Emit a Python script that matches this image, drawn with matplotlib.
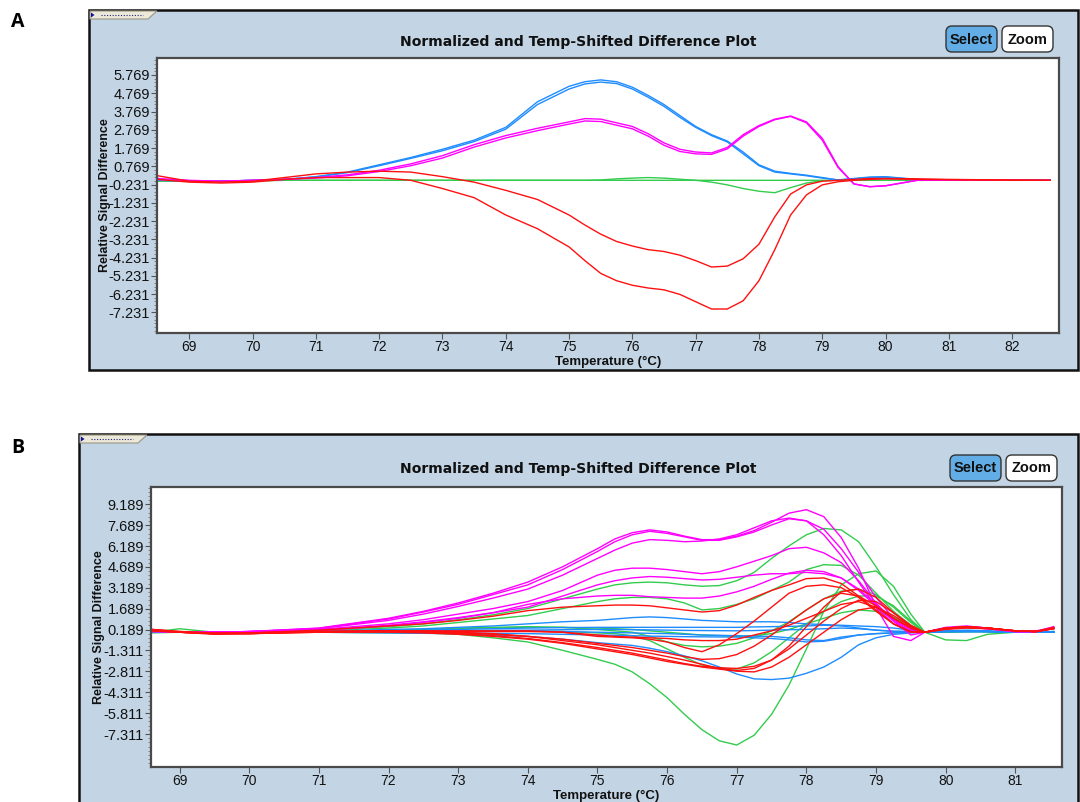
import numpy as np
import matplotlib.pyplot as plt
from matplotlib.patches import Rectangle, FancyBboxPatch, Polygon
from matplotlib.ticker import FixedLocator

# ---------------- panel A data ----------------
temp_a = [68.5, 69.0, 69.5, 70.0, 70.5, 71.0, 71.5, 72.0, 72.5, 73.0, 73.5, 74.0, 74.5,
          75.0, 75.25, 75.5, 75.75, 76.0, 76.25, 76.5, 76.75, 77.0, 77.25, 77.5, 77.75,
          78.0, 78.25, 78.5, 78.75, 79.0, 79.25, 79.5, 79.75,
          80.0, 80.5, 81.0, 81.5, 82.0, 82.6]

blue_a1 = [0.05, -0.05, -0.05, 0.0, 0.05, 0.2, 0.45, 0.85, 1.25, 1.7, 2.2, 2.9, 4.3,
           5.15, 5.4, 5.5, 5.4, 5.1, 4.65, 4.15, 3.55, 2.95, 2.5, 2.15, 1.55, 0.85, 0.5, 0.38, 0.28, 0.15, 0.02, 0.1, 0.18,
           0.2, 0.05, 0.0, 0.0, 0.0, 0.0]
blue_a2 = [0.0, -0.05, -0.05, 0.0, 0.05, 0.18, 0.42, 0.8, 1.2, 1.62, 2.12, 2.8, 4.15,
           5.0, 5.28, 5.38, 5.3, 5.0, 4.55, 4.05, 3.45, 2.9, 2.45, 2.1, 1.45, 0.8, 0.45, 0.35, 0.25, 0.12, 0.02, 0.08, 0.15,
           0.17, 0.04, 0.0, 0.0, 0.0, 0.0]
magenta_a1 = [0.1, 0.0, -0.05, 0.0, 0.05, 0.15, 0.3, 0.55, 0.9, 1.35, 1.95, 2.45, 2.85,
              3.2, 3.38, 3.35, 3.15, 2.95, 2.55, 2.05, 1.7, 1.55, 1.5, 1.8, 2.5, 3.0, 3.35, 3.52, 3.2, 2.3, 0.75, -0.2, -0.35,
              -0.3, 0.0, 0.0, 0.0, 0.0, 0.0]
magenta_a2 = [0.05, -0.02, -0.05, 0.0, 0.05, 0.12, 0.25, 0.48, 0.8, 1.22, 1.82, 2.32, 2.72,
              3.08, 3.25, 3.22, 3.02, 2.82, 2.42, 1.92, 1.58, 1.45, 1.42, 1.72, 2.42, 2.95, 3.32, 3.5, 3.15, 2.2, 0.7, -0.2, -0.35,
              -0.3, 0.0, 0.0, 0.0, 0.0, 0.0]
red_a1 = [0.25, -0.05, -0.1, -0.05, 0.15, 0.35, 0.45, 0.5, 0.45, 0.2, -0.1, -0.55, -1.05,
          -1.9, -2.45, -2.95, -3.35, -3.6, -3.8, -3.9, -4.1, -4.4, -4.75, -4.7, -4.3, -3.5, -2.0, -0.75, -0.25, -0.05, 0.0, 0.05, 0.1,
          0.1, 0.08, 0.05, 0.03, 0.02, 0.0]
red_a2 = [0.05, -0.1, -0.15, -0.1, 0.05, 0.15, 0.15, 0.15, 0.0, -0.45, -0.95, -1.9, -2.65,
          -3.65, -4.4, -5.1, -5.5, -5.75, -5.9, -6.0, -6.25, -6.65, -7.05, -7.05, -6.6, -5.5, -3.8, -1.9, -0.8, -0.25, -0.08, 0.0, 0.05,
          0.08, 0.05, 0.03, 0.02, 0.0, 0.0]
green_a1 = [0.0, -0.02, -0.05, -0.03, 0.0, 0.0, 0.0, 0.0, 0.0, 0.0, 0.0, 0.0, 0.0,
            0.0, 0.0, 0.0, 0.0, 0.0, 0.0, 0.0, 0.0, 0.0, 0.0, 0.0, 0.0, 0.0, 0.0, 0.0, 0.0, 0.0, 0.0, 0.0, 0.0,
            0.0, 0.0, 0.0, 0.0, 0.0, 0.0]
green_a2 = [-0.05, -0.05, -0.05, -0.02, 0.0, 0.0, 0.0, 0.0, 0.0, 0.0, 0.0, 0.0, 0.0,
            0.0, 0.0, 0.02, 0.08, 0.12, 0.15, 0.12, 0.06, 0.0, -0.1, -0.25, -0.45, -0.6, -0.68, -0.4, -0.15, -0.02, 0.0, 0.0, 0.0,
            0.0, 0.0, 0.0, 0.0, 0.0, 0.0]

yticks_a = [5.769, 4.769, 3.769, 2.769, 1.769, 0.769, -0.231, -1.231, -2.231, -3.231, -4.231, -5.231, -6.231, -7.231]
xticks_a = [69, 70, 71, 72, 73, 74, 75, 76, 77, 78, 79, 80, 81, 82]

# ---------------- panel B data ----------------
temp_b = [68.6, 69.0, 69.5, 70.0, 71.0, 72.0, 72.5, 73.0, 73.5, 74.0, 74.5,
          75.0, 75.25, 75.5, 75.75, 76.0, 76.25, 76.5, 76.75, 77.0, 77.25, 77.5, 77.75,
          78.0, 78.25, 78.5, 78.75, 79.0, 79.25, 79.5,
          79.7, 80.0, 80.3, 80.6, 81.0, 81.3, 81.55]

magenta_b1 = [0.1, 0.0, 0.0, 0.05, 0.3, 1.0, 1.5, 2.1, 2.8, 3.6, 4.7,
              6.0, 6.7, 7.15, 7.35, 7.2, 6.9, 6.65, 6.65, 6.9, 7.3, 7.9, 8.55, 8.8, 8.3, 6.8, 4.6, 1.8, -0.3, -0.6,
              0.0, 0.3, 0.4, 0.3, 0.05, 0.05, 0.4]
magenta_b2 = [0.05, 0.0, 0.0, 0.05, 0.28, 0.95, 1.45, 2.0, 2.7, 3.4, 4.5,
              5.8, 6.5, 7.0, 7.25, 7.1, 6.85, 6.6, 6.6, 6.85, 7.2, 7.7, 8.15, 8.0, 7.4, 6.0, 4.3, 2.5, 1.0, 0.2,
              0.0, 0.35, 0.45, 0.3, 0.05, 0.1, 0.35]
magenta_b3 = [0.1, 0.0, -0.05, 0.05, 0.25, 0.85, 1.3, 1.85, 2.45, 3.1, 4.1,
              5.3, 5.9, 6.4, 6.65, 6.6, 6.5, 6.55, 6.7, 7.0, 7.5, 8.0, 8.2, 8.0, 7.0, 5.5, 3.6, 1.8, 0.6, 0.0,
              0.0, 0.3, 0.4, 0.25, 0.05, 0.05, 0.3]
magenta_b4 = [0.1, 0.0, 0.0, 0.05, 0.2, 0.6, 0.9, 1.3, 1.7, 2.2, 3.0,
              4.1, 4.45, 4.6, 4.6, 4.5, 4.35, 4.2, 4.35, 4.7, 5.1, 5.5, 6.0, 6.1, 5.7, 5.0, 3.7, 2.1, 0.8, -0.2,
              0.0, 0.25, 0.35, 0.25, 0.05, 0.05, 0.25]
magenta_b5 = [0.05, 0.0, 0.0, 0.0, 0.15, 0.5, 0.75, 1.05, 1.4, 1.8, 2.6,
              3.4, 3.7, 3.9, 4.0, 3.95, 3.85, 3.75, 3.8, 3.95, 4.1, 4.2, 4.2, 4.3, 4.2, 3.9, 3.1, 2.0, 0.9, 0.1,
              0.0, 0.3, 0.4, 0.3, 0.05, 0.05, 0.3]
magenta_b6 = [0.1, 0.0, 0.0, 0.0, 0.12, 0.45, 0.7, 1.0, 1.4, 2.0, 2.4,
              2.6, 2.65, 2.65, 2.55, 2.5, 2.45, 2.45, 2.6, 2.9, 3.3, 3.8, 4.25, 4.45, 4.35, 3.9, 3.0, 1.9, 0.8, 0.05,
              0.0, 0.25, 0.35, 0.25, 0.05, 0.05, 0.3]

green_b1 = [0.0, 0.25, 0.0, 0.0, 0.0, -0.05, -0.05, -0.15, -0.4, -0.7, -1.3,
            -1.95, -2.3, -2.85, -3.7, -4.7, -5.9, -7.0, -7.8, -8.1, -7.4, -5.9, -3.8, -1.2, 1.5, 3.4, 4.2, 4.4, 3.3, 1.3,
            0.0, -0.55, -0.6, -0.15, 0.0, 0.0, 0.0]
green_b2 = [0.1, 0.0, 0.0, 0.0, 0.15, 0.4, 0.6, 0.9, 1.25, 1.7, 2.4,
            3.1, 3.4, 3.55, 3.6, 3.55, 3.4, 3.3, 3.35, 3.7, 4.3, 5.3, 6.2, 7.0, 7.45, 7.35, 6.5, 4.7, 2.7, 0.9,
            0.0, 0.05, 0.1, 0.05, 0.0, 0.0, 0.05]
green_b3 = [0.0, 0.05, 0.0, 0.0, 0.1, 0.3, 0.45, 0.7, 0.95, 1.2, 1.7,
            2.2, 2.4, 2.5, 2.5, 2.4, 2.1, 1.6, 1.7, 2.0, 2.4, 3.0, 3.6, 4.5, 4.85, 4.8, 4.1, 2.8, 1.5, 0.5,
            0.0, 0.05, 0.1, 0.05, 0.0, 0.0, 0.05]
green_b4 = [-0.05, 0.0, 0.0, 0.0, 0.05, 0.15, 0.2, 0.3, 0.35, 0.4, 0.35,
            0.2, 0.1, 0.0, -0.3, -0.7, -0.95, -1.05, -1.0, -0.8, -0.4, 0.1, 0.75, 1.6, 2.4, 2.95, 3.1, 2.7, 1.8, 0.7,
            0.0, 0.05, 0.05, 0.05, 0.0, 0.0, 0.0]
green_b5 = [0.0, 0.0, 0.0, 0.0, 0.0, 0.05, 0.08, 0.1, 0.1, 0.1, 0.05,
            -0.05, -0.1, -0.25, -0.6, -1.2, -1.8, -2.35, -2.6, -2.65, -2.2, -1.4, -0.4, 0.6, 1.5, 2.2, 2.6, 2.6, 1.9, 0.8,
            0.0, 0.0, 0.05, 0.05, 0.0, 0.0, 0.0]
green_b6 = [0.0, 0.0, 0.0, 0.0, 0.02, 0.1, 0.18, 0.25, 0.3, 0.35, 0.35,
            0.3, 0.25, 0.2, 0.1, 0.0, -0.1, -0.2, -0.25, -0.3, -0.25, -0.1, 0.2, 0.6, 1.0, 1.4, 1.6, 1.5, 1.1, 0.4,
            0.0, 0.0, 0.05, 0.05, 0.0, 0.0, 0.0]

red_b1 = [0.2, 0.0, -0.1, -0.05, 0.15, 0.45, 0.6, 0.85, 1.15, 1.55, 1.8,
          1.9, 1.95, 1.95, 1.9, 1.75, 1.6, 1.45, 1.55, 1.95, 2.5, 3.0, 3.4, 3.85, 3.9, 3.5, 2.6, 1.6, 0.6, 0.0,
          0.0, 0.25, 0.35, 0.3, 0.1, 0.05, 0.3]
red_b2 = [0.15, 0.0, -0.1, -0.1, 0.05, 0.1, 0.1, 0.1, 0.1, 0.1, 0.0,
          -0.3, -0.35, -0.4, -0.5, -0.7, -1.1, -1.4, -0.9, -0.1, 0.8, 1.8, 2.8, 3.3, 3.4, 3.2, 2.5, 1.5, 0.6, 0.05,
          0.0, 0.3, 0.35, 0.3, 0.1, 0.05, 0.25]
red_b3 = [0.2, 0.05, -0.1, -0.1, 0.05, 0.1, 0.05, 0.0, -0.1, -0.3, -0.6,
          -0.9, -1.1, -1.3, -1.5, -1.75, -2.0, -2.3, -2.6, -2.75, -2.6, -2.0, -1.0, 0.4, 1.8, 2.9, 3.1, 2.5, 1.4, 0.4,
          0.0, 0.25, 0.35, 0.3, 0.1, 0.05, 0.3]
red_b4 = [0.1, 0.0, -0.15, -0.1, 0.0, 0.05, 0.0, -0.1, -0.25, -0.45, -0.75,
          -1.1, -1.3, -1.5, -1.75, -2.0, -2.25, -2.45, -2.55, -2.6, -2.45, -2.0, -1.2, -0.2, 0.8, 1.7, 2.3, 2.2, 1.4, 0.5,
          0.0, 0.3, 0.4, 0.3, 0.1, 0.05, 0.35]
red_b5 = [0.15, 0.0, -0.1, -0.1, 0.0, 0.0, -0.05, -0.15, -0.3, -0.5, -0.8,
          -1.2, -1.4, -1.6, -1.85, -2.1, -2.3, -2.5, -2.65, -2.8, -2.85, -2.5, -1.8, -0.9, 0.0, 0.9, 1.6, 1.8, 1.2, 0.4,
          0.0, 0.2, 0.3, 0.25, 0.1, 0.05, 0.25]
red_b6 = [0.2, 0.05, -0.05, -0.05, 0.05, 0.05, 0.0, -0.05, -0.15, -0.3, -0.5,
          -0.8, -0.95, -1.1, -1.3, -1.5, -1.75, -1.95, -1.9, -1.6, -1.0, -0.2, 0.7, 1.6, 2.4, 2.8, 2.6, 1.9, 1.0, 0.3,
          0.0, 0.25, 0.35, 0.3, 0.1, 0.05, 0.3]
red_b7 = [0.1, 0.0, -0.1, -0.05, 0.05, 0.1, 0.1, 0.05, 0.05, 0.05, 0.0,
          -0.2, -0.3, -0.35, -0.4, -0.45, -0.55, -0.6, -0.6, -0.5, -0.2, 0.1, 0.5, 1.0, 1.5, 2.0, 2.2, 1.8, 1.0, 0.3,
          0.0, 0.3, 0.4, 0.3, 0.1, 0.05, 0.3]

blue_b1 = [0.0, 0.0, 0.0, 0.0, 0.05, 0.2, 0.25, 0.35, 0.45, 0.6, 0.75,
           0.85, 0.95, 1.05, 1.1, 1.05, 0.95, 0.85, 0.8, 0.75, 0.75, 0.75, 0.7, 0.6, 0.55, 0.5, 0.45, 0.4, 0.3, 0.15,
           0.0, 0.1, 0.15, 0.1, 0.05, 0.0, 0.05]
blue_b2 = [0.0, 0.0, 0.0, 0.0, 0.03, 0.1, 0.15, 0.2, 0.25, 0.3, 0.33,
           0.35, 0.35, 0.35, 0.35, 0.35, 0.35, 0.35, 0.35, 0.35, 0.38, 0.4, 0.42, 0.45, 0.5, 0.45, 0.3, 0.15, 0.05, 0.05,
           0.0, 0.05, 0.1, 0.05, 0.0, 0.0, 0.0]
blue_b3 = [0.0, 0.0, 0.0, 0.0, 0.0, 0.05, 0.05, 0.08, 0.1, 0.1, 0.05,
           0.0, -0.02, -0.05, -0.08, -0.1, -0.15, -0.2, -0.22, -0.25, -0.28, -0.3, -0.4, -0.55, -0.6, -0.35, -0.2, -0.1, -0.05, 0.0,
           0.0, 0.05, 0.05, 0.05, 0.0, 0.0, 0.0]
blue_b4 = [0.0, 0.0, 0.0, 0.0, 0.0, -0.05, -0.08, -0.1, -0.2, -0.3, -0.5,
           -0.75, -0.85, -0.95, -1.15, -1.4, -1.7, -2.05, -2.5, -3.0, -3.35, -3.4, -3.3, -2.95, -2.5, -1.8, -0.9, -0.4, -0.15, -0.05,
           0.0, 0.05, 0.05, 0.05, 0.0, 0.0, 0.0]
blue_b5 = [0.0, 0.0, 0.0, 0.0, 0.0, 0.0, -0.02, -0.05, -0.08, -0.1, -0.15,
           -0.2, -0.22, -0.25, -0.28, -0.3, -0.32, -0.33, -0.34, -0.35, -0.4, -0.45, -0.55, -0.7, -0.65, -0.45, -0.2, -0.1, -0.05, 0.0,
           0.0, 0.05, 0.05, 0.05, 0.0, 0.0, 0.0]
blue_b6 = [0.0, 0.0, 0.0, 0.0, 0.02, 0.08, 0.1, 0.12, 0.14, 0.15, 0.18,
           0.2, 0.2, 0.18, 0.17, 0.15, 0.13, 0.12, 0.11, 0.1, 0.12, 0.15, 0.18, 0.2, 0.25, 0.3, 0.25, 0.15, 0.08, 0.05,
           0.0, 0.05, 0.05, 0.05, 0.0, 0.0, 0.0]

yticks_b = [9.189, 7.689, 6.189, 4.689, 3.189, 1.689, 0.189, -1.311, -2.811, -4.311, -5.811, -7.311]
xticks_b = [69, 70, 71, 72, 73, 74, 75, 76, 77, 78, 79, 80, 81]

TITLE = 'Normalized and Temp-Shifted Difference Plot'
MAGENTA = '#ff00ff'
RED = '#ff1010'
GREEN = '#33cc4d'
BLUE = '#1e8cff'
PANEL = '#c3d5e5'

W, H = 1080, 802
fig = plt.figure(figsize=(W / 100, H / 100), dpi=100)
fig.patch.set_facecolor('white')

# pixel-space layer for the window chrome
bg = fig.add_axes([0, 0, 1, 1])
bg.set_xlim(0, W)
bg.set_ylim(H, 0)
bg.axis('off')

tick_family = ['Liberation Sans Narrow', 'Liberation Sans']


def chrome(x0, y0, x1, y1, cx, title_y, sel_x, zoom_x, btn_y):
    bg.add_patch(Rectangle((x0, y0), x1 - x0, y1 - y0, facecolor=PANEL,
                           edgecolor='#111111', lw=1.8))
    # little folder tab in the corner
    bg.add_patch(Polygon([(x0 + 1, y0 + 1), (x0 + 68, y0 + 1), (x0 + 59, y0 + 9), (x0 + 1, y0 + 9)],
                         closed=True, facecolor='#ece9d8', edgecolor='#9a9684', lw=0.8))
    bg.plot([x0 + 12, x0 + 54], [y0 + 5, y0 + 5], ls=(0, (1, 1.5)), color='#202080', lw=0.8)
    bg.add_patch(Polygon([(x0 + 2, y0 + 2.5), (x0 + 5.5, y0 + 5), (x0 + 2, y0 + 7.5)],
                         closed=True, facecolor='#1010a0', edgecolor='none'))
    bg.text(cx, title_y, TITLE, ha='center', va='center', fontsize=10.1,
            fontweight='bold', family='DejaVu Sans', color='#111111')
    for bx, label, face in [(sel_x, 'Select', '#62ade6'), (zoom_x, 'Zoom', 'white')]:
        bg.add_patch(FancyBboxPatch((bx, btn_y), 51, 26, boxstyle='round,pad=0,rounding_size=6',
                                    facecolor=face, edgecolor='#333333', lw=1.0))
        bg.text(bx + 25.5, btn_y + 13.5, label, ha='center', va='center', fontsize=10.5,
                fontweight='bold', family='Liberation Sans', color='#111111')


def plot_axes(left, top, right, bottom, xlim, ylim, xticks, yticks, minor_step):
    ax = fig.add_axes([left / W, 1 - bottom / H, (right - left) / W, (bottom - top) / H])
    ax.set_facecolor('white')
    ax.set_xlim(*xlim)
    ax.set_ylim(*ylim)
    ax.set_xticks(xticks, labels=[str(t) for t in xticks])
    ax.set_yticks(yticks, labels=[f'{t:.3f}' for t in yticks])
    minor = yticks[0] + minor_step * np.arange(-80, 80)
    minor = minor[(minor > ylim[0]) & (minor < ylim[1])]
    ax.yaxis.set_minor_locator(FixedLocator(minor))
    for lab in ax.get_yticklabels():
        lab.set_family(tick_family)
        lab.set_fontsize(10.5)
        lab.set_color('#111111')
    for lab in ax.get_xticklabels():
        lab.set_family(tick_family)
        lab.set_fontsize(10)
        lab.set_color('#111111')
    ax.tick_params(axis='y', which='major', direction='out', length=4, width=0.8,
                   color='#555555', pad=1)
    ax.tick_params(axis='y', which='minor', direction='out', length=2, width=0.6, color='#777777')
    ax.tick_params(axis='x', which='major', direction='out', length=4, width=0.8,
                   color='#555555', pad=1)
    for sp in ax.spines.values():
        sp.set_color('#4a4a4a')
        sp.set_linewidth(1.6)
    return ax


# ---------------- panel A ----------------
chrome(89, 10, 1078, 370, 578, 42, 946, 1002, 26)
ax_a = plot_axes(157, 58, 1059, 333, (68.49, 82.74), (-8.365, 6.70), xticks_a, yticks_a, 0.2)
for series, color in [(green_a1, GREEN), (green_a2, GREEN), (blue_a1, BLUE), (blue_a2, BLUE),
                      (magenta_a1, MAGENTA), (magenta_a2, MAGENTA), (red_a1, RED), (red_a2, RED)]:
    ax_a.plot(temp_a, series, color=color, lw=1.0)
bg.text(608, 362, 'Temperature (°C)', ha='center', va='center', fontsize=9.5,
        fontweight='bold', family='Liberation Sans', color='#111111')
bg.text(105, 195, 'Relative Signal Difference', ha='center', va='center', rotation=90,
        fontsize=9, fontweight='bold', family='Liberation Sans', color='#111111')

# ---------------- panel B ----------------
chrome(79, 434, 1078, 806, 578, 469, 950, 1006, 455)
ax_b = plot_axes(151, 487, 1062, 767, (68.59, 81.67), (-9.68, 10.43), xticks_b, yticks_b, 0.3)
series_b = [(green_b1, GREEN), (green_b2, GREEN), (green_b3, GREEN), (green_b4, GREEN),
            (green_b5, GREEN), (green_b6, GREEN),
            (blue_b1, BLUE), (blue_b2, BLUE), (blue_b3, BLUE), (blue_b4, BLUE), (blue_b5, BLUE), (blue_b6, BLUE),
            (magenta_b1, MAGENTA), (magenta_b2, MAGENTA), (magenta_b3, MAGENTA), (magenta_b4, MAGENTA),
            (magenta_b5, MAGENTA), (magenta_b6, MAGENTA),
            (red_b1, RED), (red_b2, RED), (red_b3, RED), (red_b4, RED), (red_b5, RED), (red_b6, RED), (red_b7, RED)]
for series, color in series_b:
    ax_b.plot(temp_b, series, color=color, lw=1.0)
bg.text(606, 796, 'Temperature (°C)', ha='center', va='center', fontsize=9.5,
        fontweight='bold', family='Liberation Sans', color='#111111')
bg.text(99, 627, 'Relative Signal Difference', ha='center', va='center', rotation=90,
        fontsize=9, fontweight='bold', family='Liberation Sans', color='#111111')

# panel letters
bg.text(18, 22, 'A', ha='center', va='center', fontsize=14, fontweight='bold', family='Open Sans')
bg.text(18, 448, 'B', ha='center', va='center', fontsize=14, fontweight='bold', family='Open Sans')

fig.savefig('out.png', dpi=100)
